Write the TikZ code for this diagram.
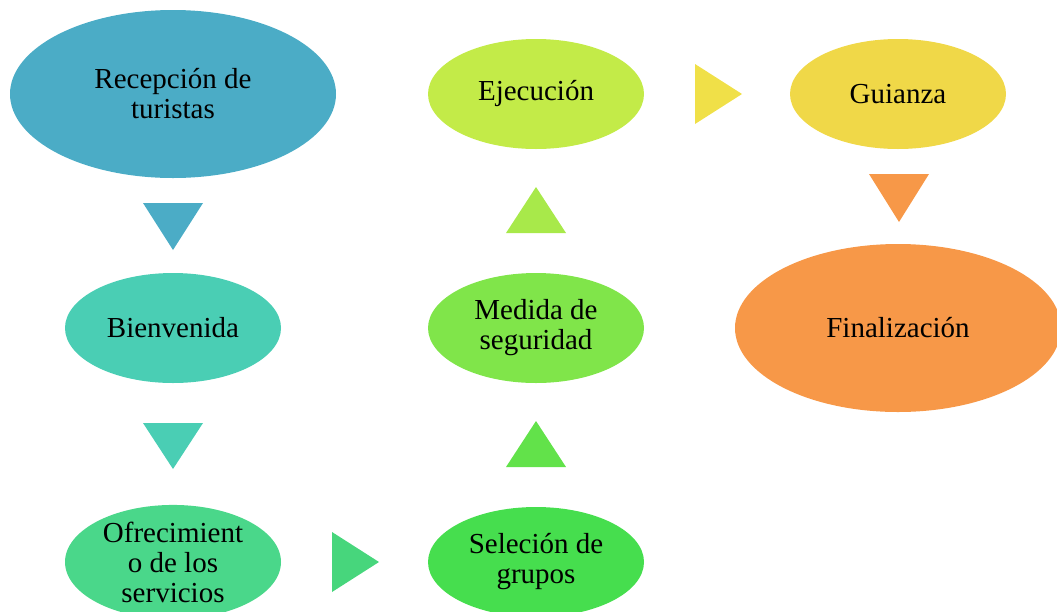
\documentclass[tikz,border=0pt]{standalone}
\usepackage{fontspec}
\setmainfont{Liberation Serif}
\usetikzlibrary{shapes.geometric}
\definecolor{cA}{HTML}{4BACC6}
\definecolor{cB}{HTML}{4ACEB4}
\definecolor{cC}{HTML}{4AD78A}
\definecolor{cD}{HTML}{46DE4E}
\definecolor{cE}{HTML}{80E54A}
\definecolor{cF}{HTML}{C3EB48}
\definecolor{cG}{HTML}{F0D848}
\definecolor{cH}{HTML}{F79848}
\definecolor{tC}{HTML}{47D67C}
\definecolor{tD}{HTML}{62E24A}
\definecolor{tE}{HTML}{A8E94A}
\definecolor{tF}{HTML}{F0E048}
\begin{document}
\begin{tikzpicture}[x=1pt,y=-1pt,
  ov/.style={ellipse, inner sep=0pt, align=center, text=black,
    font=\fontsize{29}{30}\selectfont},
  small/.style={ov, minimum width=216pt, minimum height=110pt},
  big/.style={ov, minimum width=326pt, minimum height=168pt}]
\useasboundingbox (0,0) rectangle (1057,611);
\clip (0,0) rectangle (1057,611);
\node[big, fill=cA] (rec) at (173,94) {Recepción de\\turistas};
\node[small, fill=cB] (bien) at (173,328) {Bienvenida};
\node[small, fill=cC] (ofr) at (173,562) {Ofrecimient\\o de los\\servicios};
\node[small, fill=cD] (sel) at (536,562) {Seleción de\\grupos};
\node[small, fill=cE] (med) at (536,328) {Medida de\\seguridad};
\node[small, fill=cF] (eje) at (536,94) {Ejecución};
\node[small, fill=cG] (gui) at (898,94) {Guianza};
\node[big, fill=cH] (fin) at (898,328) {Finalización};
% arrow triangles
\fill[cA] (143,203) -- (203,203) -- (173,250) -- cycle;
\fill[cB] (143,423) -- (203,423) -- (173,469) -- cycle;
\fill[tC] (332,532) -- (379,562) -- (332,592) -- cycle;
\fill[tD] (506,467) -- (566,467) -- (536,421) -- cycle;
\fill[tE] (506,233) -- (566,233) -- (536,187) -- cycle;
\fill[tF] (695,64) -- (742,94) -- (695,124) -- cycle;
\fill[cH] (869,174) -- (929,174) -- (899,222) -- cycle;
\end{tikzpicture}
\end{document}
